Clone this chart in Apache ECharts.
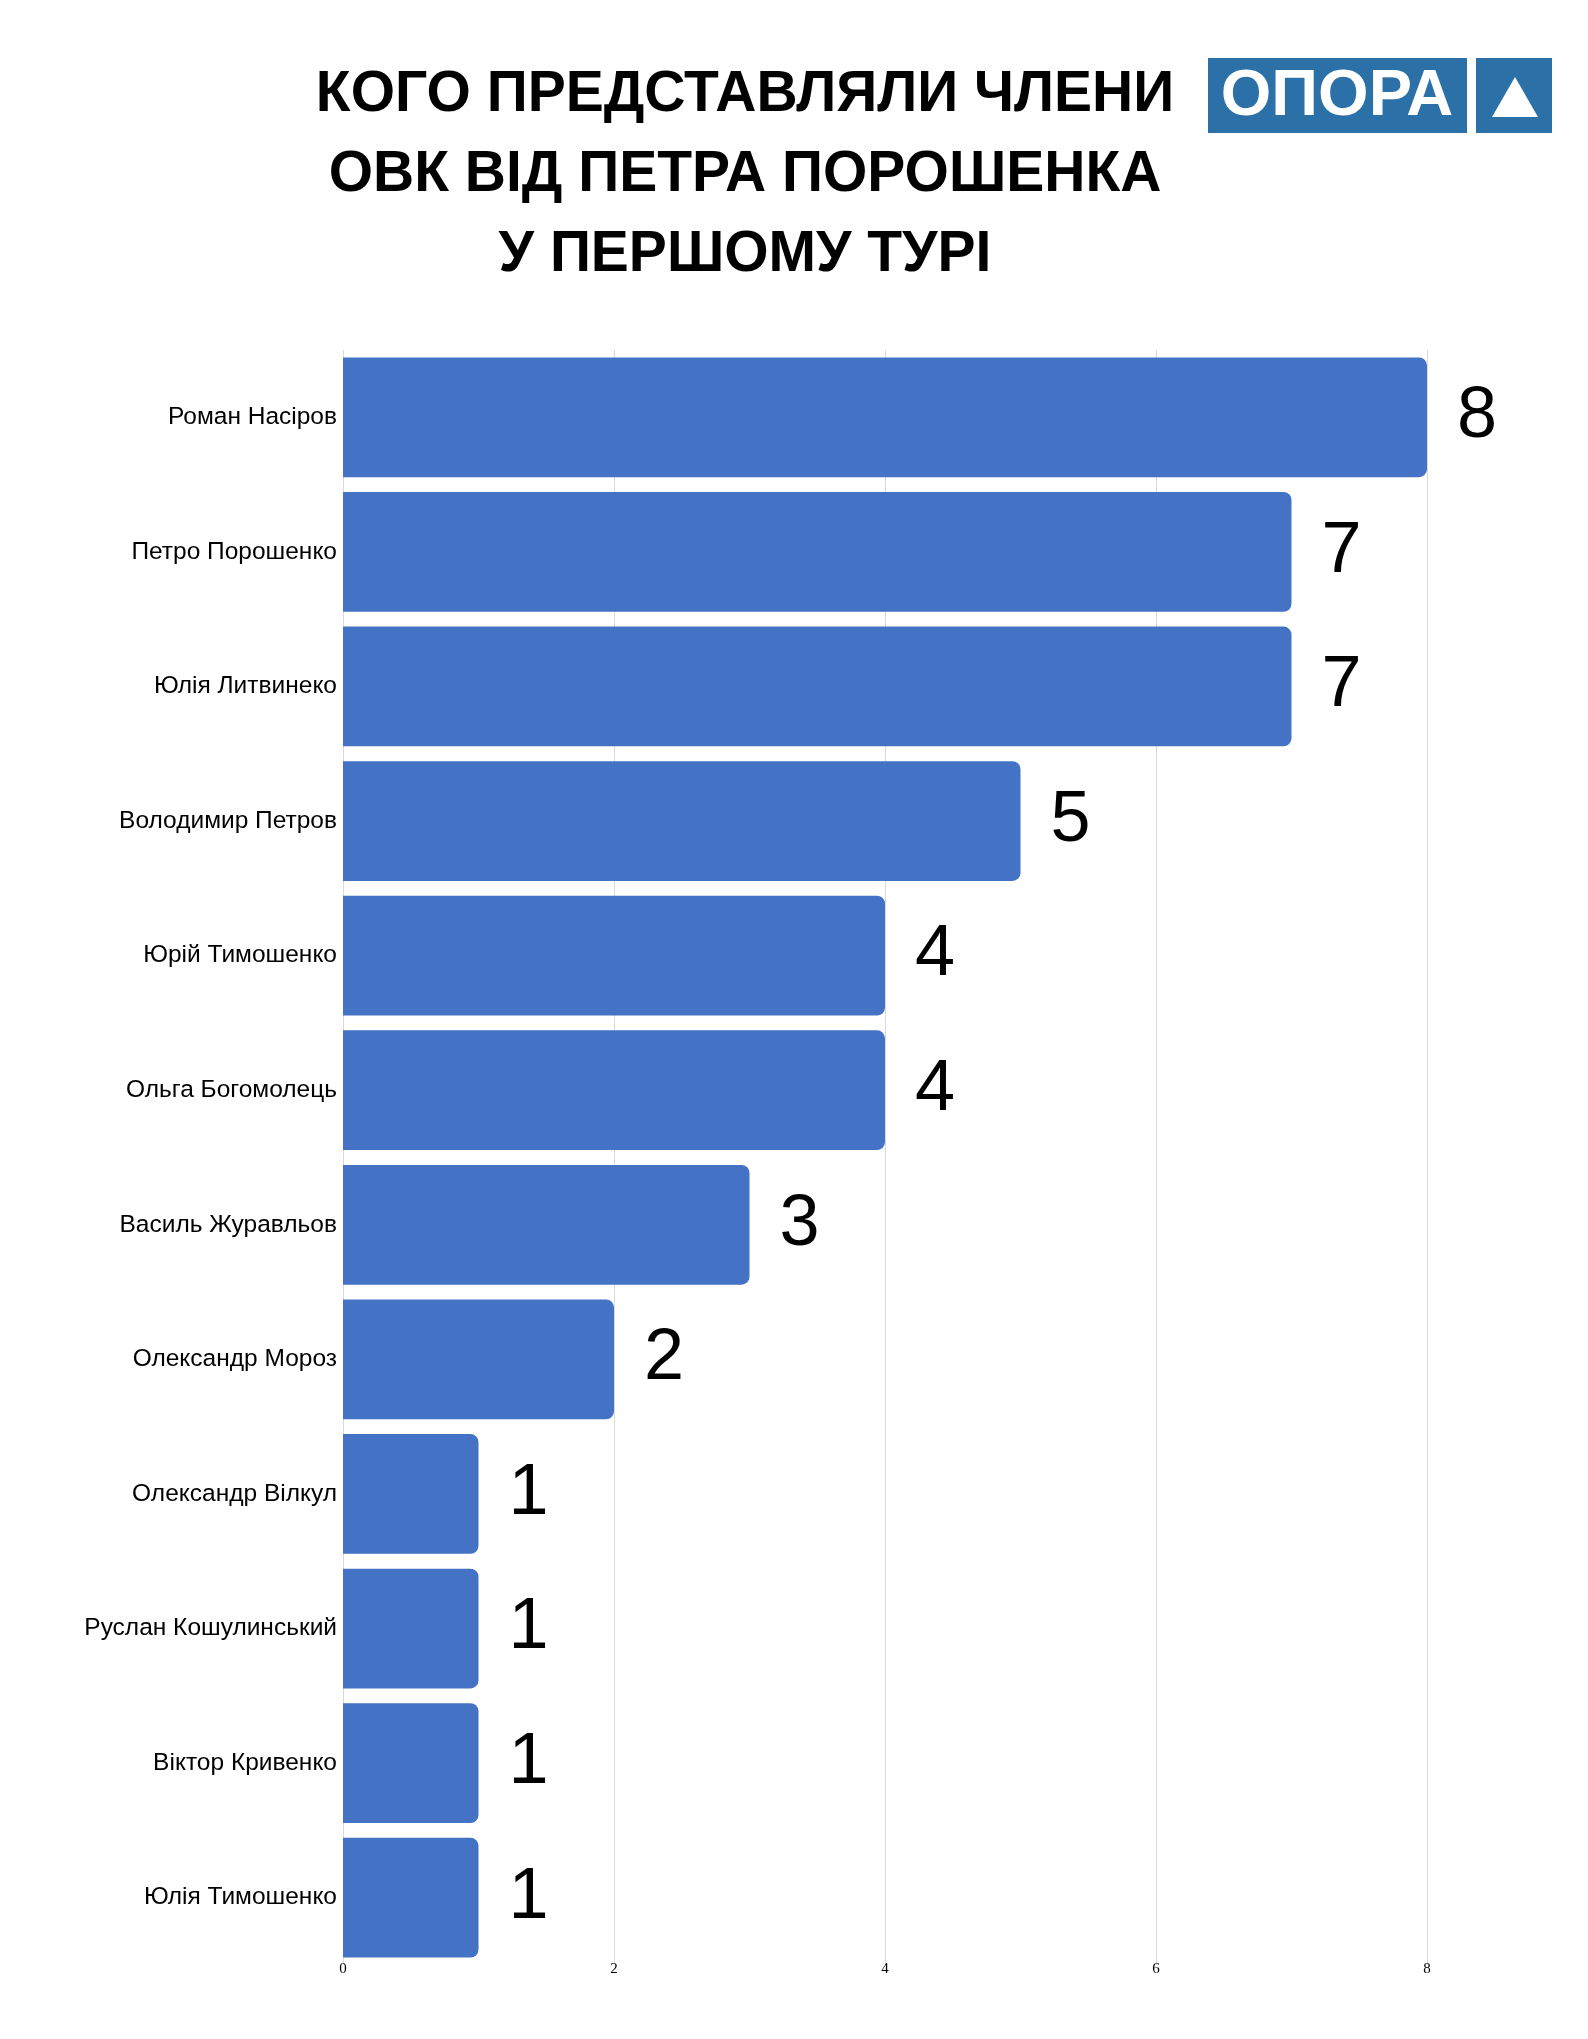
<!DOCTYPE html>
<html>
<head>
<meta charset="utf-8">
<script src="https://cdn.jsdelivr.net/npm/echarts@6/dist/echarts.min.js"></script>
<style>
  html, body { margin: 0; padding: 0; background: #fff; }
  #main { width: 1588px; height: 2039px; }
</style>
</head>
<body>
<div id="main"></div>
<script>
// дані
var names = ['Роман Насіров', 'Петро Порошенко', 'Юлія Литвинеко', 'Володимир Петров',
  'Юрій Тимошенко', 'Ольга Богомолець', 'Василь Журавльов', 'Олександр Мороз',
  'Олександр Вілкул', 'Руслан Кошулинський', 'Віктор Кривенко', 'Юлія Тимошенко'];
var values = [8, 7, 7, 5, 4, 4, 3, 2, 1, 1, 1, 1];
var xTicks = [0, 2, 4, 6, 8];

var chart = echarts.init(document.getElementById('main'));

var option = {
  backgroundColor: '#ffffff',
  animation: false,
  title: {
    text: 'КОГО ПРЕДСТАВЛЯЛИ ЧЛЕНИ\nОВК ВІД ПЕТРА ПОРОШЕНКА\nУ ПЕРШОМУ ТУРІ',
    left: 740,
    top: 50,
    textAlign: 'center',
    textStyle: {
      fontFamily: 'Liberation Sans',
      fontWeight: 'bold',
      fontSize: 57,
      lineHeight: 80,
      color: '#000'
    }
  },
  // логотип ОПОРА
  graphic: [
    { type: 'rect', shape: { x: 1208, y: 58, width: 259, height: 75 }, style: { fill: '#2B71A8' } },
    { type: 'rect', shape: { x: 1476, y: 58, width: 76, height: 75 }, style: { fill: '#2B71A8' } },
    {
      type: 'text', x: 1337, y: 97,
      style: {
        text: 'ОПОРА', fill: '#fff', font: 'bold 65px "Liberation Sans"',
        textAlign: 'center', textVerticalAlign: 'middle'
      }
    },
    { type: 'polygon', shape: { points: [[1515, 77], [1538, 117], [1492, 117]] }, style: { fill: '#fff' } }
  ],
  grid: {
    left: 343,
    right: 161,
    top: 350,
    bottom: 74
  },
  xAxis: {
    type: 'value',
    min: xTicks[0],
    max: xTicks[xTicks.length - 1],
    interval: xTicks[1] - xTicks[0],
    axisLine: { show: false },
    axisTick: { show: false },
    axisLabel: {
      fontFamily: 'Liberation Serif',
      fontSize: 15,
      color: '#000',
      margin: -3
    },
    splitLine: { show: true, lineStyle: { color: '#d9d9d9', width: 1 } }
  },
  yAxis: {
    type: 'category',
    data: names,
    inverse: true,
    axisLine: { show: false },
    axisTick: { show: false },
    axisLabel: {
      fontFamily: 'Liberation Sans',
      fontSize: 24.5,
      color: '#000',
      margin: 6
    }
  },
  series: [{
    type: 'bar',
    data: values,
    barCategoryGap: '11%',
    itemStyle: {
      color: '#4472C4',
      borderRadius: [0, 8, 8, 0]
    },
    label: {
      show: true,
      position: 'right',
      distance: 30,
      fontFamily: 'Liberation Sans',
      fontSize: 72,
      color: '#000'
    }
  }]
};

chart.setOption(option);
</script>
</body>
</html>
